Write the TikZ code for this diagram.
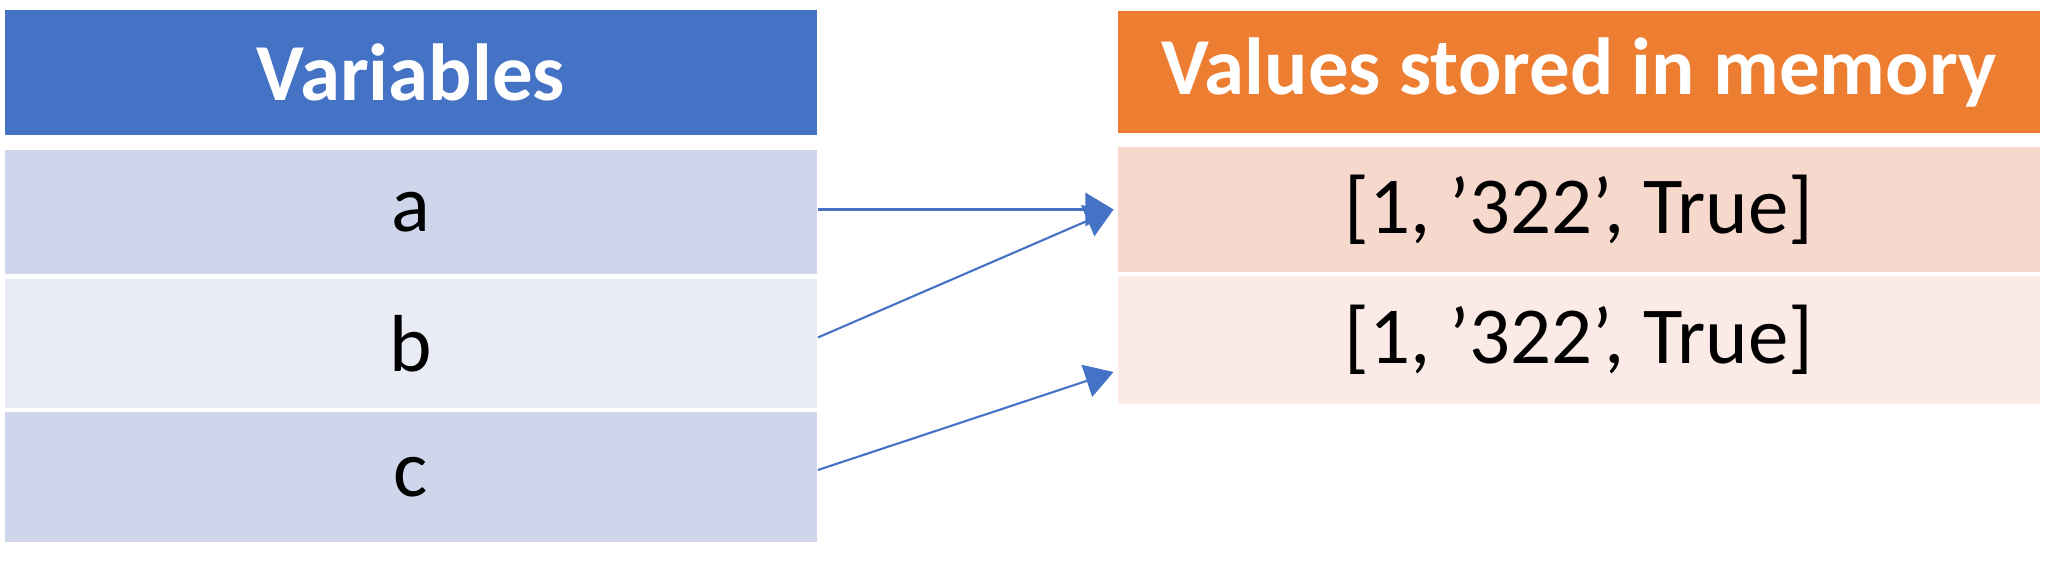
\documentclass[tikz,border=0pt]{standalone}
\usepackage{fontspec}
\setmainfont{Carlito}
\usepackage{xcolor}
\usetikzlibrary{arrows.meta, positioning}
\definecolor{varblue}{RGB}{68,114,196}
\definecolor{valorange}{RGB}{237,125,49}
\definecolor{rowdark}{RGB}{207,213,234}
\definecolor{rowlight}{RGB}{233,235,245}
\definecolor{valdark}{RGB}{247,216,205}
\definecolor{vallight}{RGB}{251,234,229}

\tikzset{
  cell/.style={rectangle, inner sep=0pt, font=\fontsize{23}{28}\selectfont},
  head/.style={cell, text=white, font=\fontsize{23}{28}\selectfont\bfseries},
  link/.style={draw=varblue, line width=0.6pt, -{Triangle[length=8pt, width=9.5pt]}}
}

\begin{document}
\begin{tikzpicture}[x=0.01cm, y=0.01cm]
    \useasboundingbox (0,0) rectangle (2052,576);
    % left column: variable names
    \node[head, fill=varblue, minimum width=8.12cm, minimum height=1.24cm] (varhead) at (411,503.5) {Variables};
    \node[cell, fill=rowdark, minimum width=8.12cm, minimum height=1.24cm] (a) at (411,364) {a};
    \node[cell, fill=rowlight, minimum width=8.12cm, minimum height=1.29cm] (b) at (411,232.5) {b};
    \node[cell, fill=rowdark, minimum width=8.12cm, minimum height=1.29cm] (c) at (411,99) {c};
    % right column: objects in memory
    \node[head, fill=valorange, minimum width=9.22cm, minimum height=1.22cm] (valhead) at (1579,504) {Values stored in memory};
    \node[cell, fill=valdark, minimum width=9.22cm, minimum height=1.25cm] (v1) at (1579,366.5) {[1, ’322’, True]};
    \node[cell, fill=vallight, minimum width=9.22cm, minimum height=1.27cm] (v2) at (1579,236) {[1, ’322’, True]};
    % references
    \draw[link] (a.east |- v1.west) -- ([xshift=-1pt]v1.west);
    \draw[link] ([yshift=0.06cm]b.east) -- ([xshift=-1pt]v1.west);
    \draw[link] ([yshift=0.07cm]c.east) -- ([xshift=-1pt, yshift=-0.32cm]v2.west);
\end{tikzpicture}
\end{document}
